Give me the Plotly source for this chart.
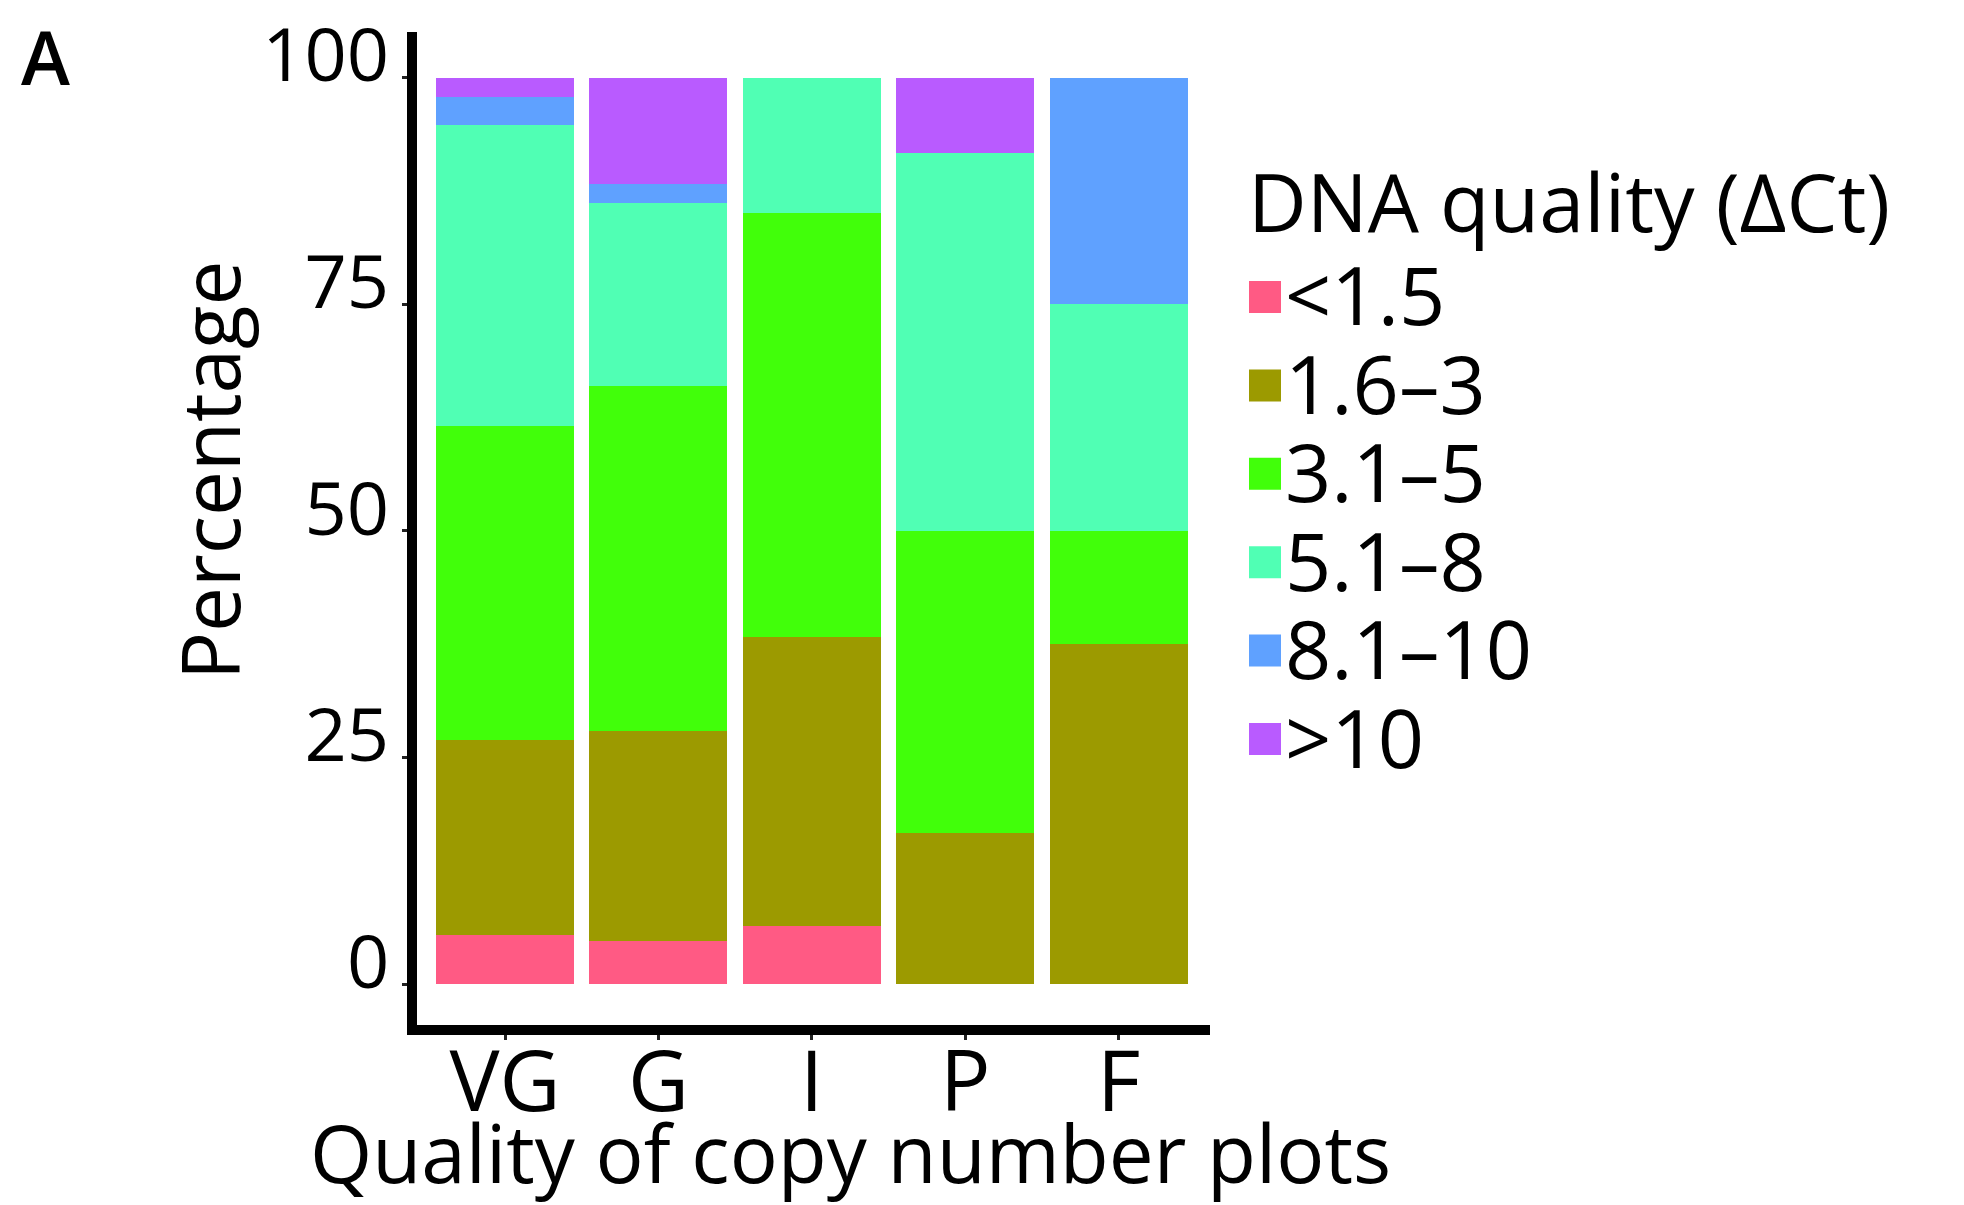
import plotly.graph_objects as go

# Quality classes of copy number plots
categories = ["VG", "G", "I", "P", "F"]

# DNA quality bins (delta Ct) and their share (%) within each quality class
bins = ["<1.5", "1.6–3", "3.1–5", "5.1–8", "8.1–10", ">10"]
lt_1_5 = [5.4, 4.7, 6.4, 0.0, 0.0]
ct_1_6_3 = [21.5, 23.2, 31.9, 16.7, 37.5]
ct_3_1_5 = [34.7, 38.1, 46.8, 33.3, 12.5]
ct_5_1_8 = [33.2, 20.2, 14.9, 41.7, 25.0]
ct_8_1_10 = [3.0, 2.1, 0.0, 0.0, 25.0]
gt_10 = [2.2, 11.7, 0.0, 8.3, 0.0]
series = [lt_1_5, ct_1_6_3, ct_3_1_5, ct_5_1_8, ct_8_1_10, gt_10]

y_ticks = [0, 25, 50, 75, 100]

colors = ["#FF5A84", "#9C9A00", "#41FF0A", "#50FFB4", "#5FA1FF", "#B95BFF"]

W, H = 1964, 1205
L, R, T, B = 417, 1210, 32, 1025  # plot area in pixels
FONT = "Open Sans"


def px(x):
    return (x - L) / (R - L)


def py(y):
    return (B - y) / (B - T)


fig = go.Figure()
for name, vals, col in zip(bins, series, colors):
    fig.add_trace(go.Bar(
        x=categories, y=vals, name=name, width=0.9,
        marker=dict(color=col, line=dict(width=0)),
        showlegend=False,
    ))

fig.update_layout(
    width=W, height=H,
    margin=dict(l=L, r=W - R, t=T, b=H - B, pad=0, autoexpand=False),
    barmode="stack",
    plot_bgcolor="white", paper_bgcolor="white",
    font=dict(family=FONT, color="black"),
    xaxis=dict(
        range=[-0.574, 4.596], showgrid=False, zeroline=False,
        automargin=False,
        showline=True, linecolor="black", linewidth=10,
        ticks="outside", ticklen=5, tickwidth=3, tickcolor="#222",
        tickfont=dict(size=84, family=FONT), ticklabelstandoff=-30,
    ),
    yaxis=dict(
        range=[-4.52, 105.02], showgrid=False, zeroline=False,
        automargin=False,
        showline=True, linecolor="black", linewidth=10,
        tickvals=y_ticks, ticktext=[str(v) for v in y_ticks],
        ticks="outside", ticklen=5, tickwidth=3, tickcolor="#222",
        tickfont=dict(size=74, family=FONT), ticklabelstandoff=-2,
        ticklabelshift=-22,
    ),
)

annotations = [
    dict(text="Quality of copy number plots", x=px(850), y=py(1151),
         xanchor="center", yanchor="middle", font=dict(size=80)),
    dict(text="Percentage", x=px(208), y=py(471), textangle=-90,
         xanchor="center", yanchor="middle", font=dict(size=80)),
    dict(text="A", x=px(45), y=py(56), xanchor="center", yanchor="middle",
         font=dict(size=74, weight=600)),
    dict(text="DNA quality (ΔCt)", x=px(1246), y=py(200), xanchor="left",
         yanchor="middle", font=dict(size=81)),
]

# Legend: one swatch and label per DNA quality bin
shapes = []
y0, step, sw = 297, 88.4, 32
for i, (name, col) in enumerate(zip(bins, colors)):
    cy = y0 + i * step
    shapes.append(dict(type="rect", xref="paper", yref="paper",
                       x0=px(1249), x1=px(1249 + sw),
                       y0=py(cy + sw / 2), y1=py(cy - sw / 2),
                       fillcolor=col, line=dict(width=0)))
    annotations.append(dict(text=name, x=px(1283), y=py(cy - 3),
                            xanchor="left", yanchor="middle",
                            font=dict(size=81)))

for a in annotations:
    a.update(xref="paper", yref="paper", showarrow=False)
    a.setdefault("font", {})
    a["font"].setdefault("family", FONT)
    a["font"].setdefault("color", "black")

fig.update_layout(annotations=annotations, shapes=shapes)

fig.write_html("out.html")
